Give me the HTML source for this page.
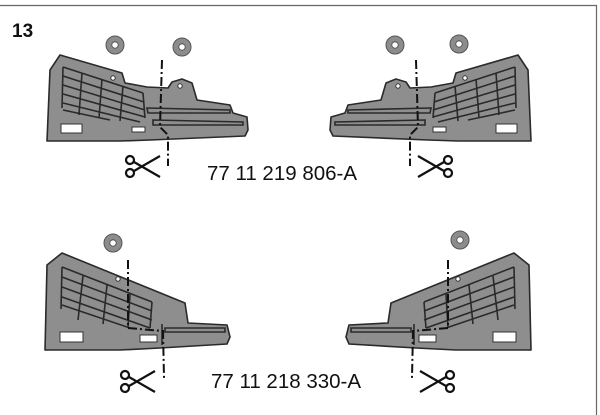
<!DOCTYPE html>
<html><head><meta charset="utf-8"><style>
html,body{margin:0;padding:0;background:#fff;}
svg{display:block}
</style></head><body>
<svg width="600" height="415" viewBox="0 0 600 415" xmlns="http://www.w3.org/2000/svg" font-family="Liberation Sans, sans-serif">
<defs>
  <g id="nut"><circle r="9" fill="#8c8c8c" stroke="#555" stroke-width="1"/><circle r="3.2" fill="#fff" stroke="#444" stroke-width="0.8"/></g>
  <g id="sc" stroke="#111" stroke-width="2.2" fill="none">
    <circle cx="6" cy="5" r="4"/><circle cx="6" cy="18" r="4"/>
    <path d="M10 7 L36 22 M10 16 L36 1"/>
  </g>
  <g id="partA">
    <path d="M60 55 L122 73 L125 83 L147 87 L168 88 L172 82 L182 79 L192 83 L197 100 L230 105 L233 113 L247 117 L248 130 L245 136 L150 140 L120 141 L47 141 L50 70 Z" fill="#8e8e8e" stroke="#2a2a2a" stroke-width="1.6" stroke-linejoin="round"/>
    <g stroke="#2a2a2a" stroke-width="1.6" fill="none">
      <path d="M63 67 L143 93 M63 76 L144 102 M63 85 L145 110 M63 94 L145 117 M63 103 L140 122 M63 110 L110 120"/>
      <path d="M63 67 L62 108 M82 73 L79 115 M102 79 L99 118 M123 86 L120 121 M143 93 L145 118"/>
      <path d="M147 108 L230 110 L230 113 L148 113 Z M153 120 L243 122 L243 125 L153 125 Z"/>
    </g>
    <circle cx="113" cy="78" r="2.2" fill="#fff" stroke="#333"/>
    <circle cx="180" cy="86" r="2.2" fill="#fff" stroke="#333"/>
    <rect x="61" y="124" width="21" height="9" fill="#fff" stroke="#333"/>
    <rect x="132" y="127" width="13" height="5" fill="#fff" stroke="#333"/>
    <path d="M162 60 L160 127 L168 135 L168 166" stroke="#111" stroke-width="2" stroke-dasharray="9 3 2 3" fill="none"/>
  </g>
  <g id="partB">
    <path d="M62 253 L185 303 L188 323 L227 325 L230 337 L227 344 L160 348 L120 350 L45 350 L47 265 Z" fill="#8e8e8e" stroke="#2a2a2a" stroke-width="1.6" stroke-linejoin="round"/>
    <g stroke="#2a2a2a" stroke-width="1.6" fill="none">
      <path d="M62 267 L152 302 M62 277 L152 311 M62 287 L152 320 M62 297 L150 328 M62 305 L130 328"/>
      <path d="M62 267 L61 309 M83 276 L78 320 M107 285 L103 324 M130 294 L128 328 M152 302 L150 328"/>
      <path d="M165 328 L225 328 L225 332 L165 332 Z M162 324 L162 345"/>
    </g>
    <circle cx="118" cy="279" r="2.2" fill="#fff" stroke="#333"/>
    <rect x="60" y="332" width="23" height="10" fill="#fff" stroke="#333"/>
    <rect x="140" y="335" width="17" height="7" fill="#fff" stroke="#333"/>
    <path d="M128 260 L128 328 L163 331 L164 378" stroke="#111" stroke-width="2" stroke-dasharray="9 3 2 3" fill="none"/>
  </g>
</defs>
<path d="M0 5.5 H596.5 V415" stroke="#666" stroke-width="1.2" fill="none"/>
<text x="12" y="37" font-size="19" font-weight="bold" fill="#111">13</text>

<use href="#nut" x="115" y="45"/><use href="#nut" x="182" y="47"/>
<use href="#nut" x="395" y="45"/><use href="#nut" x="459" y="44"/>
<use href="#nut" x="113" y="243"/><use href="#nut" x="460" y="240"/>

<use href="#partA"/>
<g transform="translate(578,0) scale(-1,1)"><use href="#partA"/></g>
<use href="#partB"/>
<g transform="translate(576,0) scale(-1,1)"><use href="#partB"/></g>

<use href="#sc" x="124" y="155"/>
<g transform="translate(454,155) scale(-1,1)"><use href="#sc"/></g>
<use href="#sc" x="119" y="370"/>
<g transform="translate(456,370) scale(-1,1)"><use href="#sc"/></g>

<text x="282" y="180" font-size="20.5" text-anchor="middle" fill="#111">77 11 219 806-A</text>
<text x="286" y="388" font-size="20.5" text-anchor="middle" fill="#111">77 11 218 330-A</text>
</svg>
</body></html>
